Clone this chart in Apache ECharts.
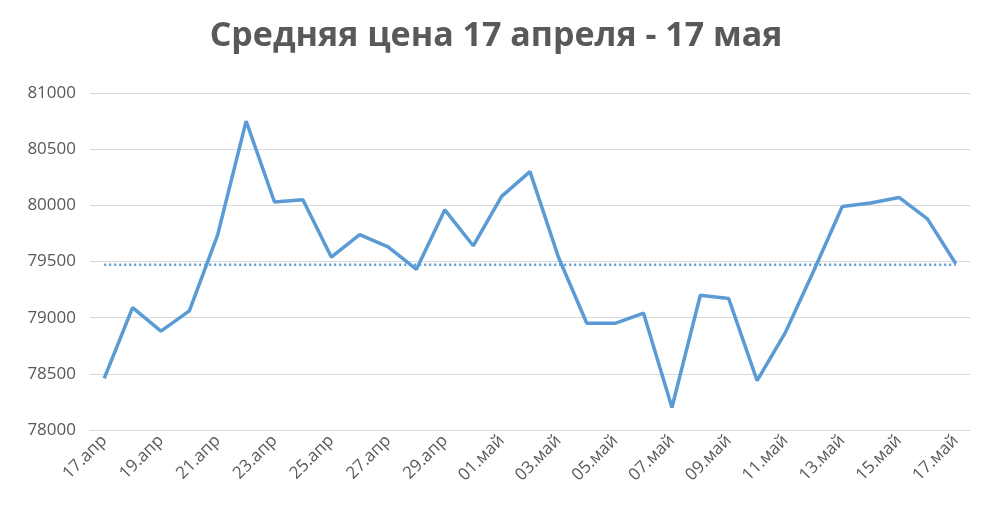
<!DOCTYPE html>
<html><head><meta charset="utf-8">
<script src="https://cdn.jsdelivr.net/npm/echarts@6/dist/echarts.min.js"></script>
<style>html,body{margin:0;padding:0;background:#fff}#c{width:992px;height:512px}</style>
</head><body><div id="c"></div>
<script>
const categories = ["17.апр","18.апр","19.апр","20.апр","21.апр","22.апр","23.апр","24.апр","25.апр","26.апр","27.апр","28.апр","29.апр","30.апр","01.май","02.май","03.май","04.май","05.май","06.май","07.май","08.май","09.май","10.май","11.май","12.май","13.май","14.май","15.май","16.май","17.май"];
const prices = [78460,79090,78880,79060,79740,80750,80030,80050,79540,79740,79630,79430,79960,79640,80080,80300,79540,78950,78950,79040,78200,79200,79170,78440,78870,79420,79990,80020,80070,79880,79480];
// linear trendline (least squares) of prices
const n = prices.length;
let sx=0,sy=0,sxy=0,sxx=0;
prices.forEach((v,i)=>{sx+=i;sy+=v;sxy+=i*v;sxx+=i*i;});
const b=(n*sxy-sx*sy)/(n*sxx-sx*sx), a=(sy-b*sx)/n;
const trend = prices.map((_,i)=>a+b*i);
const chart = echarts.init(document.getElementById('c'));
chart.setOption({
  animation:false,
  title:{text:'Средняя цена 17 апреля - 17 мая',left:'center',top:14,textStyle:{fontFamily:'Open Sans',fontSize:34,fontWeight:'bold',color:'#595959'}},
  grid:{left:90,right:22,top:93,bottom:82},
  xAxis:{type:'category',data:categories,boundaryGap:true,
    axisLine:{lineStyle:{color:'#d9d9d9'}},
    axisTick:{interval:1,lineStyle:{color:'#d9d9d9'},length:5},
    axisLabel:{interval:1,rotate:45,color:'#595959',fontSize:17,fontFamily:'Open Sans',margin:8}},
  yAxis:{type:'value',min:78000,max:81000,interval:500,
    axisLine:{show:false},axisTick:{show:false},
    splitLine:{lineStyle:{color:'#d9d9d9'}},
    axisLabel:{color:'#595959',fontSize:17,fontFamily:'Open Sans',margin:14,formatter:v=>String(v)}},
  series:[
    {type:'line',data:prices,symbol:'none',lineStyle:{color:'#5B9BD5',width:3.5}},
    {type:'line',data:trend,symbol:'none',lineStyle:{color:'#5B9BD5',width:2.5,type:[2,3]}}
  ]
});
</script></body></html>
